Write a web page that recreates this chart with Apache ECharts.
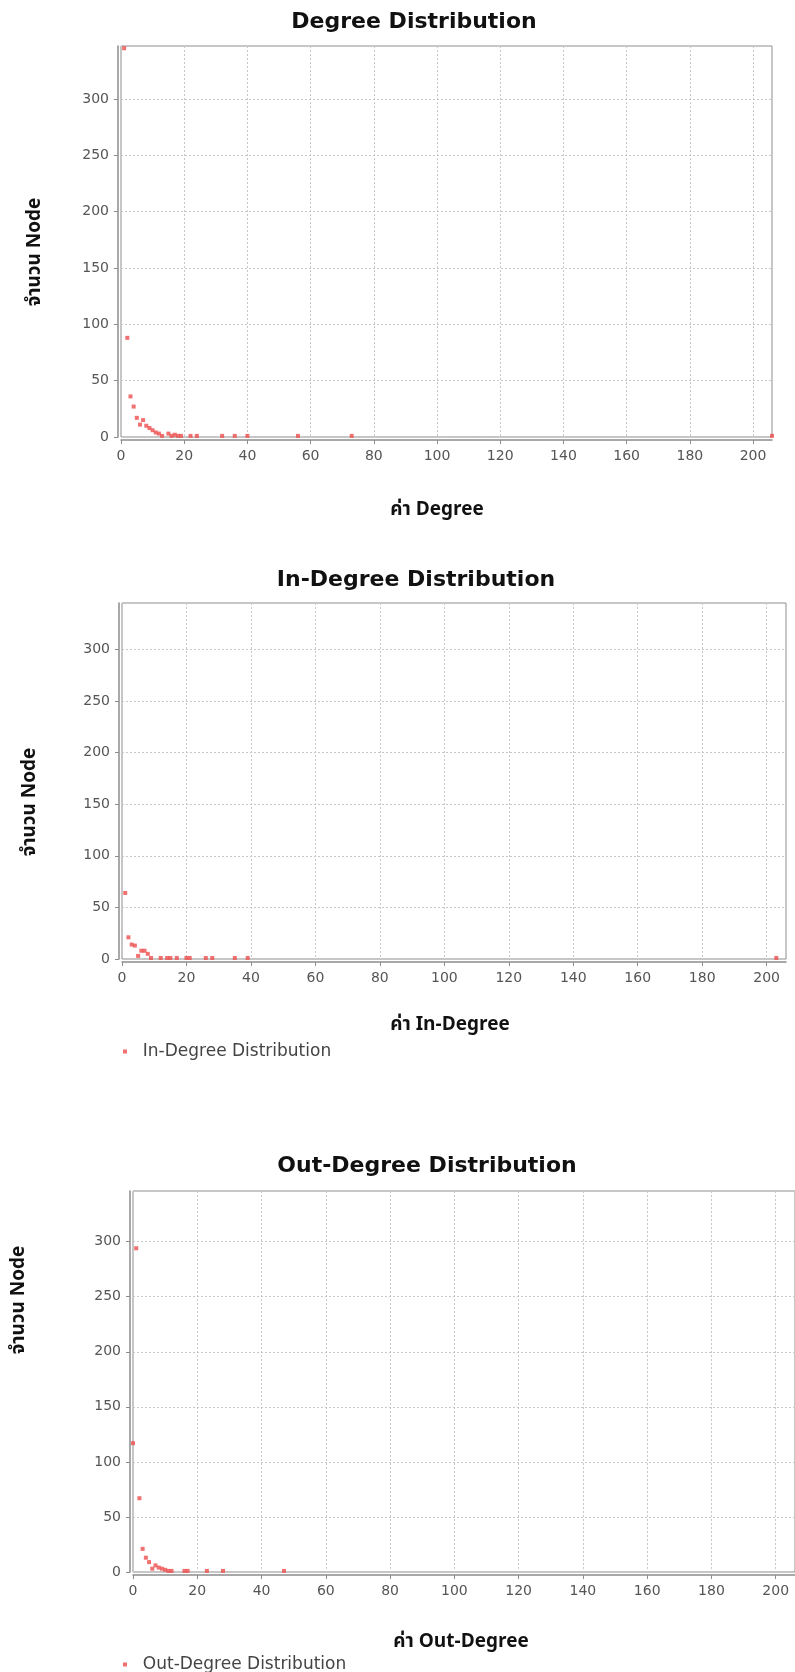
<!DOCTYPE html>
<html>
<head>
<meta charset="utf-8">
<title>Degree Distributions</title>
<script src="https://cdn.jsdelivr.net/npm/echarts@6/dist/echarts.min.js"></script>
<style>
  html, body { margin: 0; padding: 0; background: #ffffff; }
  #chart { width: 795px; height: 1672px; }
</style>
</head>
<body>
<div id="chart"></div>
<script>
// Degree distribution: degree value -> number of nodes
var degreeX = [1, 2, 3, 4, 5, 6, 7, 8, 9, 10, 11, 12, 13, 15, 16, 17, 18, 19, 22, 24, 32, 36, 40, 56, 73, 206];
var degreeY = [345, 88, 36, 27, 17, 11, 15, 10, 8, 6, 4, 3, 1, 3, 1, 2, 1, 1, 1, 1, 1, 1, 1, 1, 1, 1];

// In-degree distribution
var inDegreeX = [1, 2, 3, 4, 5, 6, 7, 8, 9, 12, 14, 15, 17, 20, 21, 26, 28, 35, 39, 203];
var inDegreeY = [64, 21, 14, 13, 3, 8, 8, 5, 1, 1, 1, 1, 1, 1, 1, 1, 1, 1, 1, 1];

// Out-degree distribution
var outDegreeX = [0, 1, 2, 3, 4, 5, 6, 7, 8, 9, 10, 11, 12, 16, 17, 23, 28, 47];
var outDegreeY = [117, 294, 67, 21, 13, 9, 3, 6, 4, 3, 2, 1, 1, 1, 1, 1, 1, 1];

// Axis settings and text
var xTickStep = 20;
var yTickStep = 50;
var xMax = 206;
var yMaxes = [347, 345, 346];

var titles = ['Degree Distribution', 'In-Degree Distribution', 'Out-Degree Distribution'];
var xNames = ['ค่า Degree', 'ค่า In-Degree', 'ค่า Out-Degree'];
var yName = 'จำนวน Node';
var seriesNames = ['Degree Distribution', 'In-Degree Distribution', 'Out-Degree Distribution'];

function pairs(xs, ys) {
  return xs.map(function (x, i) { return [x, ys[i]]; });
}
var datasets = [pairs(degreeX, degreeY), pairs(inDegreeX, inDegreeY), pairs(outDegreeX, outDegreeY)];

// Plot-area boxes for the three stacked panels
var grids = [
  { left: 121, top: 46, width: 651, height: 391 },
  { left: 122, top: 603, width: 664, height: 356 },
  { left: 133, top: 1191, width: 664, height: 381 }
];

var labelFont = "'DejaVu Sans', 'Noto Sans', sans-serif";
var thaiFont = "Tahoma, 'Noto Sans Thai', 'Noto Sans Thai UI', 'Garuda', 'Loma', 'Norasi', 'DejaVu Sans', 'Noto Sans', sans-serif";
var titleFont = "bold 22px 'DejaVu Sans', sans-serif";
var nameFont = "bold 19px " + thaiFont;
var pointColor = '#ee4d4d';
var frameColor = '#8c8c8c';

var chart = echarts.init(document.getElementById('chart'), null, { renderer: 'canvas' });

function label(text, x, y, font, rotated) {
  return {
    type: 'text', x: x, y: y, rotation: rotated ? Math.PI / 2 : 0,
    style: { text: text, font: font, fill: '#111', textAlign: 'center', textVerticalAlign: 'middle' }
  };
}

var option = {
  backgroundColor: '#ffffff',
  animation: false,
  grid: grids.map(function (g) {
    return {
      left: g.left, top: g.top, width: g.width, height: g.height,
      show: true, borderColor: frameColor, borderWidth: 1, backgroundColor: '#ffffff'
    };
  }),
  xAxis: grids.map(function (g, i) {
    return {
      type: 'value', gridIndex: i, min: 0, max: xMax, interval: xTickStep,
      offset: 3,
      axisLine: { show: true, onZero: false, lineStyle: { color: frameColor, width: 1.5 } },
      axisTick: { show: true, length: 4, lineStyle: { color: frameColor } },
      axisLabel: { color: '#555', fontFamily: labelFont, fontSize: 14, margin: 9, showMaxLabel: false },
      splitLine: { show: true, lineStyle: { color: '#c8c8c8', width: 1, type: [2, 2] } }
    };
  }),
  yAxis: grids.map(function (g, i) {
    return {
      type: 'value', gridIndex: i, min: 0, max: yMaxes[i], interval: yTickStep,
      offset: 3,
      axisLine: { show: true, onZero: false, lineStyle: { color: frameColor, width: 1.5 } },
      axisTick: { show: true, length: 4, lineStyle: { color: frameColor } },
      axisLabel: { color: '#555', fontFamily: labelFont, fontSize: 14, margin: 9, showMaxLabel: false },
      splitLine: { show: true, lineStyle: { color: '#c8c8c8', width: 1, type: [2, 2] } }
    };
  }),
  legend: [
    {
      data: [seriesNames[1]], left: 118, top: 1038, icon: 'rect', itemWidth: 4, itemHeight: 4,
      formatter: function (n) { return '  ' + n; },
      textStyle: { color: '#444', fontFamily: labelFont, fontSize: 17 }
    },
    {
      data: [seriesNames[2]], left: 118, top: 1651, icon: 'rect', itemWidth: 4, itemHeight: 4,
      formatter: function (n) { return '  ' + n; },
      textStyle: { color: '#444', fontFamily: labelFont, fontSize: 17 }
    }
  ],
  series: datasets.map(function (d, i) {
    return {
      name: seriesNames[i], type: 'scatter', xAxisIndex: i, yAxisIndex: i,
      symbol: 'rect', symbolSize: 4, data: d,
      itemStyle: { color: pointColor }
    };
  }),
  graphic: [
    // panel titles
    label(titles[0], 414, 22, titleFont),
    label(titles[1], 416, 580, titleFont),
    label(titles[2], 427, 1166, titleFont),
    // x-axis names
    label(xNames[0], 437, 511, nameFont),
    label(xNames[1], 450, 1026, nameFont),
    label(xNames[2], 461, 1643, nameFont),
    // y-axis names
    label(yName, 36, 252, nameFont, true),
    label(yName, 31, 802, nameFont, true),
    label(yName, 20, 1300, nameFont, true)
  ]
};

chart.setOption(option);
</script>
</body>
</html>
